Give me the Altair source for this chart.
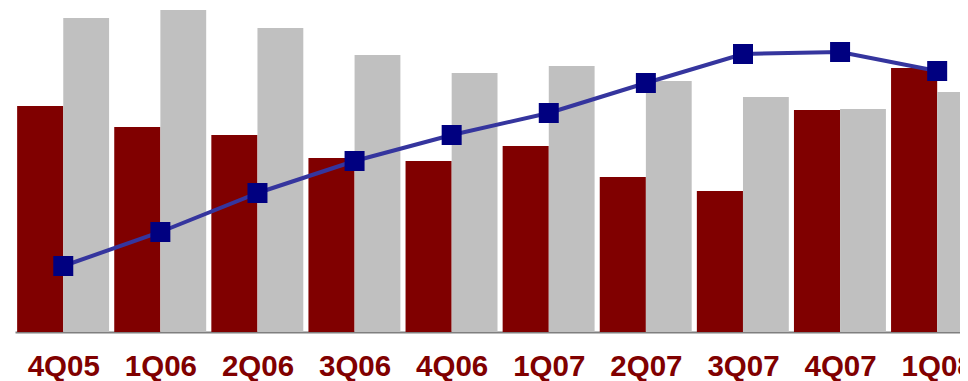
import altair as alt
import pandas as pd

quarters = ["4Q05", "1Q06", "2Q06", "3Q06", "4Q06", "1Q07", "2Q07", "3Q07", "4Q07", "1Q08"]
series_red = [226, 205, 197, 174, 171, 186, 155, 141, 222, 264]
series_gray = [314, 322, 304, 277, 259, 266, 251, 235, 223, 240]
series_line = [66, 100, 139, 171, 197, 219, 249, 278, 280, 261]

df = pd.DataFrame({
    "idx": list(range(len(quarters))),
    "quarter": quarters,
    "red": series_red,
    "gray": series_gray,
    "line": series_line,
})

xscale = alt.Scale(domain=[-0.497, 9.235], nice=False, zero=False)
yscale = alt.Scale(domain=[0, 324], nice=False, zero=True)

label_expr = "[" + ",".join(f"'{q}'" for q in quarters) + "][datum.value]"

xaxis = alt.Axis(
    values=list(range(len(quarters))), labelExpr=label_expr, ticks=False, tickSize=0,
    grid=False, domainColor="#7f7f7f", domainWidth=2, labelFont="Liberation Sans",
    labelFontSize=29.5, labelFontWeight="bold", labelColor="#800000", labelPadding=20,
    title=None, labelFlush=False, labelOverlap=False, labelBound=False,
)

base = alt.Chart(df)

red = base.transform_calculate(x0="datum.idx - 0.475", x1="datum.idx").mark_bar(
    color="#800000", clip=True
).encode(
    x=alt.X("x0:Q", scale=xscale, axis=xaxis), x2="x1:Q",
    y=alt.Y("red:Q", scale=yscale, axis=None), y2=alt.datum(0),
)

gray = base.transform_calculate(x0="datum.idx", x1="datum.idx + 0.472").mark_bar(
    color="#c0c0c0", clip=True
).encode(
    x=alt.X("x0:Q", scale=xscale, axis=xaxis), x2="x1:Q",
    y=alt.Y("gray:Q", scale=yscale, axis=None), y2=alt.datum(0),
)

line = base.mark_line(color="#35359e", strokeWidth=4, clip=True).encode(
    x=alt.X("idx:Q", scale=xscale, axis=xaxis),
    y=alt.Y("line:Q", scale=yscale, axis=None),
)

pts = base.mark_point(shape="square", filled=True, size=400, color="#000080", opacity=1, clip=True).encode(
    x=alt.X("idx:Q", scale=xscale, axis=xaxis),
    y=alt.Y("line:Q", scale=yscale, axis=None),
)

chart = alt.layer(red, gray, line, pts).properties(
    width=945, height=324,
    autosize=alt.AutoSizeParams(type="none"),
    padding={"left": 7, "top": 0, "right": 0, "bottom": 49},
    background="white",
).configure_view(stroke=None)

chart.save("out.html", embed_options={"renderer": "svg", "actions": False})
